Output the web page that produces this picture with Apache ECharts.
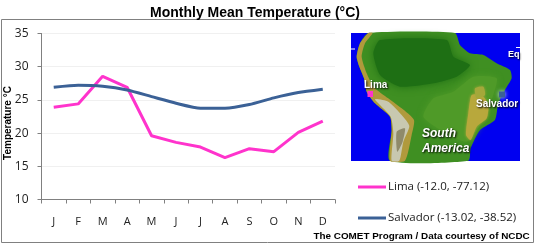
<!DOCTYPE html>
<html>
<head>
<meta charset="utf-8">
<style>
  html, body { margin: 0; padding: 0; background: #fff; }
  #chart { width: 536px; height: 245px; }
</style>
<script src="https://cdn.jsdelivr.net/npm/echarts@6/dist/echarts.min.js"></script>
</head>
<body>
<div id="chart"></div>
<script>
const months = ['J', 'F', 'M', 'A', 'M', 'J', 'J', 'A', 'S', 'O', 'N', 'D']
const lima = [23.9, 24.4, 28.55, 26.9, 19.6, 18.6, 17.9, 16.3, 17.65, 17.2, 20.1, 21.8]
const salvador = [26.9, 27.2, 27.05, 26.5, 25.5, 24.5, 23.75, 23.75, 24.3, 25.3, 26.1, 26.6]
const limaName = 'Lima (-12.0, -77.12)'
const salvadorName = 'Salvador (-13.02, -38.52)'

const landOutline = [[85,39],[345,39],[360,75],[390,100],[430,105],[470,130],[510,150],[515,175],[495,210],[475,250],[465,300],[420,330],[392,385],[385,422],[150,422],[155,330],[150,290],[105,250],[80,215],[72,175],[58,140],[50,110],[60,70]]
const amazon = [[120,60],[320,60],[340,110],[390,135],[350,170],[280,190],[180,200],[120,165],[100,100]]
const drylands = [[400,170],[470,175],[455,240],[430,300],[380,365],[310,335],[250,290],[280,235],[340,215]]
const highlands = [[395,225],[425,225],[445,255],[440,295],[410,320],[392,360],[378,345],[385,280]]
const eastPatch = [[405,205],[430,200],[435,225],[410,235]]
const coastBand = [[85,39],[98,39],[75,70],[65,110],[80,160],[100,200],[135,228],[185,265],[222,300],[215,345],[195,422],[150,422],[155,330],[150,290],[105,250],[80,215],[72,175],[58,140],[50,110],[60,70]]
const andes = [[105,238],[145,245],[185,285],[208,318],[190,365],[178,422],[155,422],[160,340],[152,290]]
const andesShade = [[170,335],[195,325],[188,365],[172,395]]
const toPage = pts => pts.map(p => [340 + p[0] / 3, 20 + p[1] / 3])
const mapShape = (pts, fill, z, blur) => ({
	type: 'polygon', z, shape: { points: toPage(pts), smooth: 0.2 },
	style: { fill, shadowColor: blur ? fill : 'transparent', shadowBlur: blur || 0 }
})
const mapText = (x, y, text, size, italic) => ({
	type: 'text', z: 20, x, y,
	style: {
		text, fill: '#fff', font: `${italic ? 'italic ' : ''}bold ${size}px "Liberation Sans"`,
		textShadowColor: '#000', textShadowBlur: 2, textShadowOffsetX: 1, textShadowOffsetY: 1
	}
})

const chart = echarts.init(document.getElementById('chart'), null, { renderer: 'canvas' })
chart.setOption({
	animation: false,
	textStyle: { fontFamily: 'Open Sans' },
	title: {
		text: 'Monthly Mean Temperature (°C)', left: 250, top: 1, textAlign: 'center',
		textStyle: { fontFamily: 'Liberation Sans', fontWeight: 'bold', fontSize: 14, color: '#000' }
	},
	grid: { left: 41.5, right: 201, top: 33.5, bottom: 45.5, outerBoundsMode: 'none' },
	legend: {
		orient: 'vertical', left: 353, top: 176, itemWidth: 28, itemHeight: 3, itemGap: 19,
		icon: 'rect',
		textStyle: { fontFamily: 'Open Sans', fontSize: 11.5, color: '#1a1a1a', padding: [0, 0, 0, -3] },
		data: [limaName, salvadorName]
	},
	xAxis: {
		type: 'category', data: months, boundaryGap: true,
		axisLine: { lineStyle: { color: '#808080' } },
		axisTick: { show: true, length: 4, alignWithLabel: false, lineStyle: { color: '#808080' } },
		axisLabel: { interval: 0, margin: 17, fontSize: 11, color: '#222' }
	},
	yAxis: {
		type: 'value', min: 10, max: 35, interval: 5,
		axisLine: { show: true, lineStyle: { color: '#808080' } },
		axisTick: { show: true, length: 4, lineStyle: { color: '#808080' } },
		axisLabel: { margin: 13, fontSize: 12, color: '#222' },
		splitLine: { lineStyle: { color: '#f0f0f0' } }
	},
	series: [
		{ name: limaName, type: 'line', data: lima, symbol: 'none', lineStyle: { width: 3, color: '#ff33cc' }, itemStyle: { color: '#ff33cc' } },
		{ name: salvadorName, type: 'line', data: salvador, symbol: 'none', smooth: 0.2, lineStyle: { width: 3, color: '#3b6196' }, itemStyle: { color: '#3b6196' } }
	],
	graphic: [
		{ type: 'rect', z: -1, shape: { x: 1.5, y: 19.5, width: 532, height: 223 }, style: { fill: 'none', stroke: '#808080', lineWidth: 1 } },
		{ type: 'rect', z: 10, shape: { x: 351, y: 33, width: 169, height: 128 }, style: { fill: '#0000f0' } },
		mapShape(landOutline, '#3f8f22', 11),
		mapShape(amazon, '#1e6f14', 12, 8),
		mapShape(drylands, '#4f9a28', 12, 6),
		mapShape(highlands, '#b8a83c', 13, 3),
		mapShape(eastPatch, '#a4a83a', 13, 3),
		mapShape(coastBand, '#b09a3c', 14),
		mapShape(andes, '#c8c8b0', 15),
		mapShape(andesShade, '#8f8a6a', 16),
		{ type: 'rect', z: 16, shape: { x: 367.5, y: 91, width: 5.5, height: 6 }, style: { fill: '#ff33cc' } },
		{ type: 'rect', z: 16, shape: { x: 499, y: 91.5, width: 6, height: 6 }, style: { fill: '#3b6196', shadowColor: '#cfe0ff', shadowBlur: 4 } },
		mapText(364, 80, 'Lima', 10),
		mapText(476, 99, 'Salvador', 10),
		mapText(422, 128, 'South', 12, true),
		mapText(422, 143, 'America', 12, true),
		mapText(508, 50, 'Eq', 9),
		{ type: 'rect', z: 16, shape: { x: 351, y: 48.5, width: 4, height: 1 }, style: { fill: '#fff' } },
		{ type: 'rect', z: 16, shape: { x: 516, y: 47, width: 4, height: 1 }, style: { fill: '#fff' } },
		{ type: 'text', z: 20, x: 8.5, y: 123, rotation: Math.PI / 2, style: { text: 'Temperature °C', fill: '#000', font: 'bold 10px "Liberation Sans"', align: 'center', verticalAlign: 'middle' } },
		{ type: 'text', z: 20, x: 313.5, y: 231.5, style: { text: 'The COMET Program / Data courtesy of NCDC', fill: '#000', font: 'bold 9.9px "Liberation Sans"' } }
	]
})
</script>
</body>
</html>
